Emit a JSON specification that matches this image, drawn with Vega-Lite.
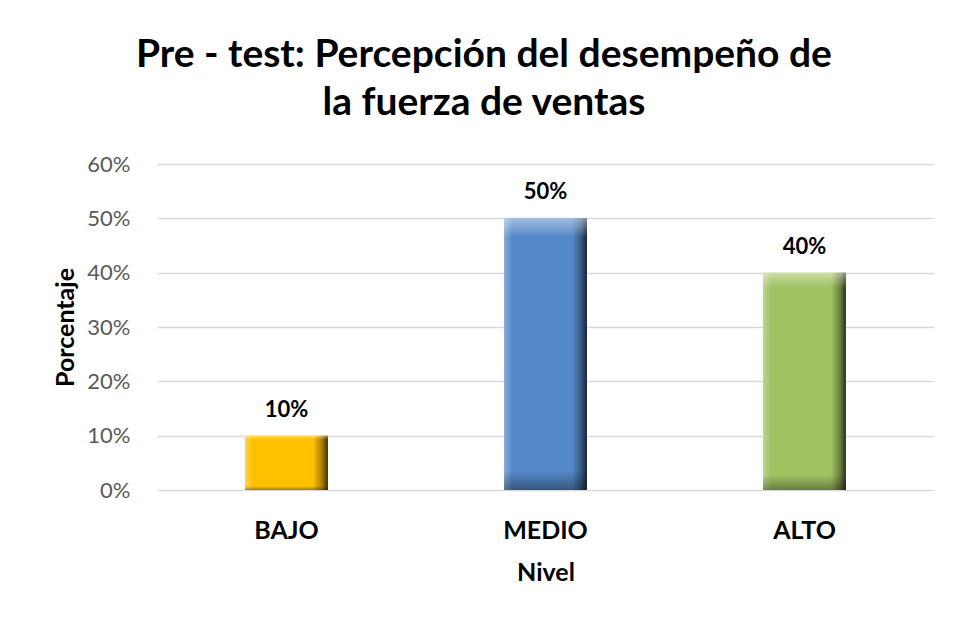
{
  "$schema": "https://vega.github.io/schema/vega-lite/v6.json",
  "width": 777,
  "height": 326,
  "padding": {"left": 53, "top": 36, "right": 21, "bottom": 10},
  "background": "white",
  "title": {
    "text": ["Pre - test: Percepción del desempeño de", "la fuerza de ventas"],
    "font": "Lato",
    "fontSize": 39,
    "fontWeight": "bold",
    "color": "#000000",
    "lineHeight": 48,
    "anchor": "middle",
    "frame": "bounds",
    "dx": -10,
    "offset": 30
  },
  "data": {
    "values": [
      {"Nivel": "BAJO", "Porcentaje": 0.10},
      {"Nivel": "MEDIO", "Porcentaje": 0.50},
      {"Nivel": "ALTO", "Porcentaje": 0.40}
    ]
  },
  "encoding": {
    "x": {
      "field": "Nivel",
      "type": "nominal",
      "sort": ["BAJO", "MEDIO", "ALTO"],
      "scale": {"paddingInner": 0.68, "paddingOuter": 0.34},
      "axis": {
        "title": "Nivel",
        "labelAngle": 0,
        "labelFont": "Lato",
        "labelFontSize": 25,
        "labelFontWeight": "bold",
        "labelColor": "#000000",
        "labelPadding": 28,
        "titleFont": "Lato",
        "titleFontSize": 25,
        "titleFontWeight": "bold",
        "titleColor": "#000000",
        "titlePadding": 17,
        "domain": false,
        "ticks": false,
        "grid": false
      }
    },
    "y": {
      "field": "Porcentaje",
      "type": "quantitative",
      "scale": {"domain": [0, 0.6]},
      "axis": {
        "title": "Porcentaje",
        "format": ".0%",
        "values": [0, 0.1, 0.2, 0.3, 0.4, 0.5, 0.6],
        "labelOverlap": false,
        "labelFont": "Lato",
        "labelFontSize": 22,
        "labelColor": "#595959",
        "labelPadding": 27,
        "titleFont": "Lato",
        "titleFontSize": 25,
        "titleFontWeight": "bold",
        "titleColor": "#000000",
        "titlePadding": 8,
        "domain": false,
        "ticks": false,
        "gridColor": "#D9D9D9",
        "gridWidth": 1.5
      }
    }
  },
  "layer": [
    {
      "mark": {"type": "bar"},
      "encoding": {
        "color": {
          "field": "Nivel",
          "type": "nominal",
          "scale": {"domain": ["BAJO", "MEDIO", "ALTO"], "range": ["#FFC000", "#5588C8", "#A0C260"]},
          "legend": null
        }
      }
    },
    {
      "mark": {
        "type": "bar",
        "color": {
          "gradient": "linear",
          "x1": 0, "y1": 0, "x2": 1, "y2": 0,
          "stops": [
            {"offset": 0, "color": "rgba(255,255,255,0.3)"},
            {"offset": 0.1, "color": "rgba(255,255,255,0)"},
            {"offset": 0.82, "color": "rgba(0,0,0,0)"},
            {"offset": 0.93, "color": "rgba(0,0,0,0.35)"},
            {"offset": 1, "color": "rgba(0,0,0,0.75)"}
          ]
        }
      },
      "encoding": {}
    },
    {
      "mark": {
        "type": "bar",
        "color": {
          "gradient": "linear",
          "x1": 0, "y1": 0, "x2": 0, "y2": 1,
          "stops": [
            {"offset": 0, "color": "rgba(255,255,255,0.45)"},
            {"offset": 0.07, "color": "rgba(255,255,255,0)"},
            {"offset": 0.93, "color": "rgba(0,0,0,0)"},
            {"offset": 1, "color": "rgba(0,0,0,0.35)"}
          ]
        }
      },
      "encoding": {}
    },
    {
      "mark": {
        "type": "text",
        "font": "Lato",
        "fontSize": 22,
        "fontWeight": "bold",
        "color": "#000000",
        "baseline": "alphabetic",
        "dy": -19
      },
      "encoding": {
        "text": {"field": "Porcentaje", "type": "quantitative", "format": ".0%"}
      }
    }
  ],
  "config": {
    "view": {"stroke": null}
  }
}
